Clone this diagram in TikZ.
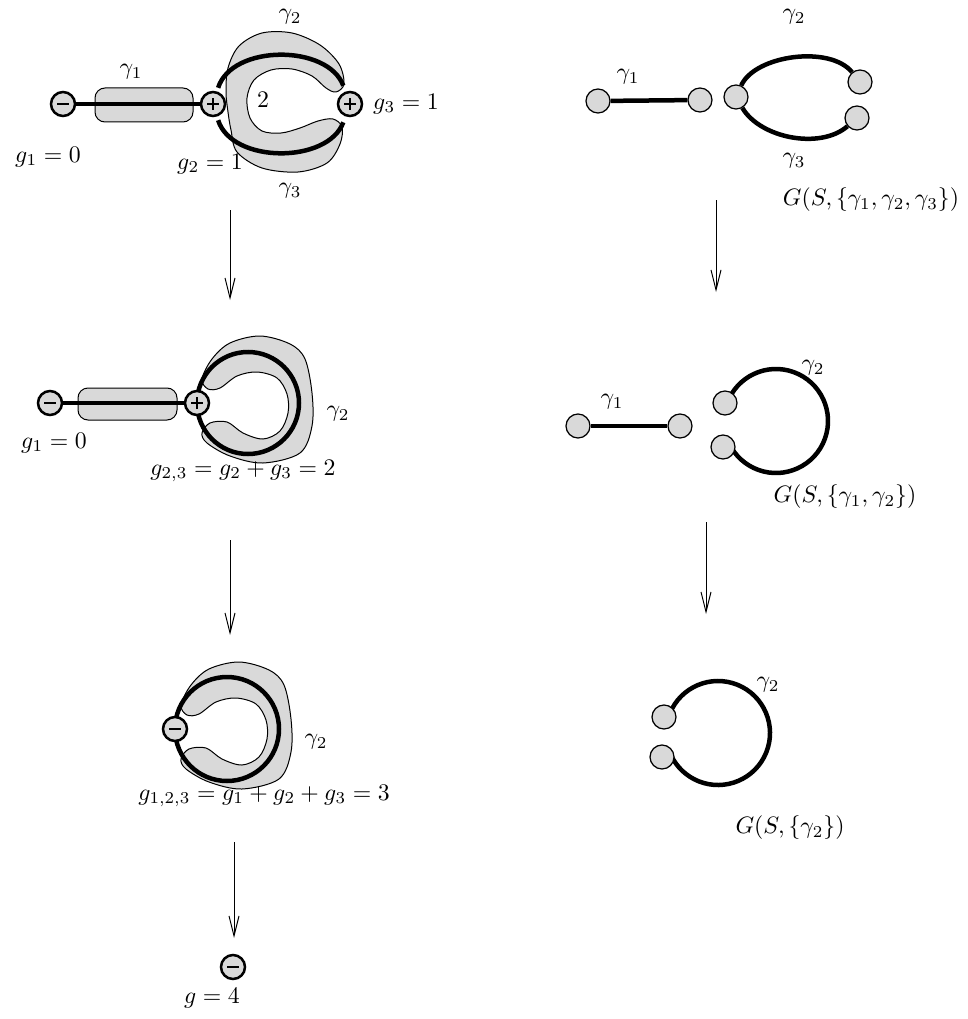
\documentclass[tikz,border=0pt]{standalone}
\usetikzlibrary{arrows.meta,backgrounds}
\begin{document}
\begin{tikzpicture}[x=0.4pt,y=-0.4pt,
  blob/.style={draw=black, line width=0.4pt, fill=gray!30},
  thickline/.style={line width=1.8pt},
  signnode/.style={circle, draw=black, line width=1pt, fill=gray!30, minimum size=9.6pt, inner sep=0pt},
  plusnode/.style={signnode, path picture={
      \draw[line width=1.1pt] ([xshift=-2.4pt]path picture bounding box.center) -- ([xshift=2.4pt]path picture bounding box.center);
      \draw[line width=1.1pt] ([yshift=-2.4pt]path picture bounding box.center) -- ([yshift=2.4pt]path picture bounding box.center);}},
  minusnode/.style={signnode, path picture={
      \draw[line width=1.1pt] ([xshift=-2.4pt]path picture bounding box.center) -- ([xshift=2.4pt]path picture bounding box.center);}},
  vert/.style={circle, draw=black, line width=0.5pt, fill=gray!30, minimum size=9.6pt, inner sep=0pt},
  arr/.style={line width=0.4pt, -{Straight Barb[length=8pt,width=4pt]}},
  lab/.style={inner sep=0pt, scale=0.95}
]
\useasboundingbox (0,0) rectangle (967,1019);

% ---------- left column, panel 1 ----------
\node[minusnode] (a1) at (63,104) {};
\node[plusnode]  (a2) at (213,104) {};
\node[plusnode]  (a3) at (350,104) {};
\node[lab] (a1l) at (48,157) {$g_1=0$};
\node[lab] (a2l) at (210,164) {$g_2=1$};
\node[lab] (a3l) at (406,104) {$g_3=1$};
\node[lab] (ag1) at (131,72) {$\gamma_1$};
\node[lab] (ag2) at (290,17) {$\gamma_2$};
\node[lab] (ag3) at (290,191) {$\gamma_3$};
\node[lab] (atwo) at (263,100) {$2$};

% ---------- left column, panel 2 ----------
\node[minusnode] (m1) at (50,403) {};
\node[plusnode]  (m2) at (197,403) {};
\coordinate (mc) at (248,403);
\node[lab] (m1l) at (54,443) {$g_1=0$};
\node[lab] (m2l) at (243,471) {$g_{2,3}=g_2+g_3=2$};
\node[lab] (mg2) at (338,414) {$\gamma_2$};

% ---------- left column, panel 3 ----------
\node[minusnode] (c1) at (175,729) {};
\coordinate (cc) at (227,729);
\node[lab] (c1l) at (264,796) {$g_{1,2,3}=g_1+g_2+g_3=3$};
\node[lab] (cg2) at (316,742) {$\gamma_2$};

% ---------- left column, panel 4 ----------
\node[minusnode] (d1) at (233,967) {};
\node[lab] (d1l) at (212,998) {$g=4$};

% ---------- right column, panel 1 ----------
\node[vert] (b1) at (598,101) {};
\node[vert] (b2) at (700,100) {};
\node[vert] (b3) at (736,97) {};
\node[vert] (b4) at (860,82) {};
\node[vert] (b5) at (857,118) {};
\node[lab] (bg1) at (628,77) {$\gamma_1$};
\node[lab] (bg2) at (794,17) {$\gamma_2$};
\node[lab] (bg3) at (794,161) {$\gamma_3$};
\node[lab] (bG) at (871,200) {$G(S,\{\gamma_1,\gamma_2,\gamma_3\})$};

% ---------- right column, panel 2 ----------
\node[vert] (e1) at (578,426) {};
\node[vert] (e2) at (680,426) {};
\node[vert] (e3) at (725,403) {};
\node[vert] (e4) at (723,447) {};
\coordinate (ec) at (776,421);
\node[lab] (eg1) at (612,402) {$\gamma_1$};
\node[lab] (eg2) at (813,368) {$\gamma_2$};
\node[lab] (eG) at (845,497) {$G(S,\{\gamma_1,\gamma_2\})$};

% ---------- right column, panel 3 ----------
\node[vert] (f1) at (664,717) {};
\node[vert] (f2) at (662,757) {};
\coordinate (fc) at (718,733);
\node[lab] (fg2) at (768,685) {$\gamma_2$};
\node[lab] (fG) at (790,828) {$G(S,\{\gamma_2\})$};

% ---------- arrows ----------
\coordinate (r1s) at (230,210); \coordinate (r1e) at (230,300);
\coordinate (r2s) at (230,540); \coordinate (r2e) at (230,635);
\coordinate (r3s) at (234,842); \coordinate (r3e) at (234,938);
\coordinate (s1s) at (716,200); \coordinate (s1e) at (716,292);
\coordinate (s2s) at (706,522); \coordinate (s2e) at (706,614);
\draw[arr] (r1s) -- (r1e);
\draw[arr] (r2s) -- (r2e);
\draw[arr] (r3s) -- (r3e);
\draw[arr] (s1s) -- (s1e);
\draw[arr] (s2s) -- (s2e);

\begin{pgfonlayer}{background}
  % panel 1 blobs
  \draw[blob, rounded corners=4pt] (95,88) rectangle (193,122);
  \draw[blob] plot[smooth cycle, tension=0.55] coordinates {
    (344,84) (339,64) (320,45) (292,33) (262,33) (239,46) (228,68) (226,92)
    (228,112) (231,130) (237,152) (262,168) (298,172) (327,163) (340,144)
    (342,127) (333,119) (318,121) (300,128) (281,133) (262,131) (250,118) (247,98)
    (254,80) (271,70) (292,69) (312,76) (326,88) (336,92)};
  \draw[thickline] (a1) -- (a2);
  \draw[thickline, shorten <=1.5pt, shorten >=2.5pt] (a2) .. controls (232,44) and (328,44) .. (a3);
  \draw[thickline, shorten <=1.5pt, shorten >=2.5pt] (a2) .. controls (232,164) and (328,164) .. (a3);

  % panel 2 blobs
  \draw[blob, rounded corners=4pt] (78,388) rectangle (177,420);
  \begin{scope}[shift={(mc)}]
  \draw[blob] plot[smooth cycle, tension=0.55] coordinates {
    (-46,-24) (-36,-44) (-18,-60) (12,-67) (42,-59) (57,-44) (64,-10) (64,23)
    (52,50) (15,60) (-18,53) (-41,40) (-46,30) (-38,20) (-21,19) (-5,30)
    (15,36) (32,28) (40,10) (39,-9) (29,-25) (9,-31) (-11,-27) (-28,-15) (-40,-14)};
  \end{scope}
  \draw[thickline] (m1) -- (m2);
  \draw[thickline] (m2.center) arc[start angle=180, end angle=-180, radius=51];

  % panel 3 blob
  \begin{scope}[shift={(cc)}]
  \draw[blob] plot[smooth cycle, tension=0.55] coordinates {
    (-46,-24) (-36,-44) (-18,-60) (12,-67) (42,-59) (57,-44) (64,-10) (64,23)
    (52,50) (15,60) (-18,53) (-41,40) (-46,30) (-38,20) (-21,19) (-5,30)
    (15,36) (32,28) (40,10) (39,-9) (29,-25) (9,-31) (-11,-27) (-28,-15) (-40,-14)};
  \end{scope}
  \draw[thickline] (c1.center) arc[start angle=180, end angle=-180, radius=52];

  % right graphs
  \draw[thickline] (b1) -- (b2);
  \draw[thickline] (b3) .. controls (755,55) and (830,45) .. (b4);
  \draw[thickline] (b3) .. controls (760,138) and (820,150) .. (b5);
  \draw[thickline] (e1) -- (e2);
  \draw[thickline] (ec) ++(-160:52) arc[start angle=-160, end angle=154, radius=52];
  \draw[thickline] (fc) ++(-158:52) arc[start angle=-158, end angle=155, radius=52];
\end{pgfonlayer}
\end{tikzpicture}
\end{document}
